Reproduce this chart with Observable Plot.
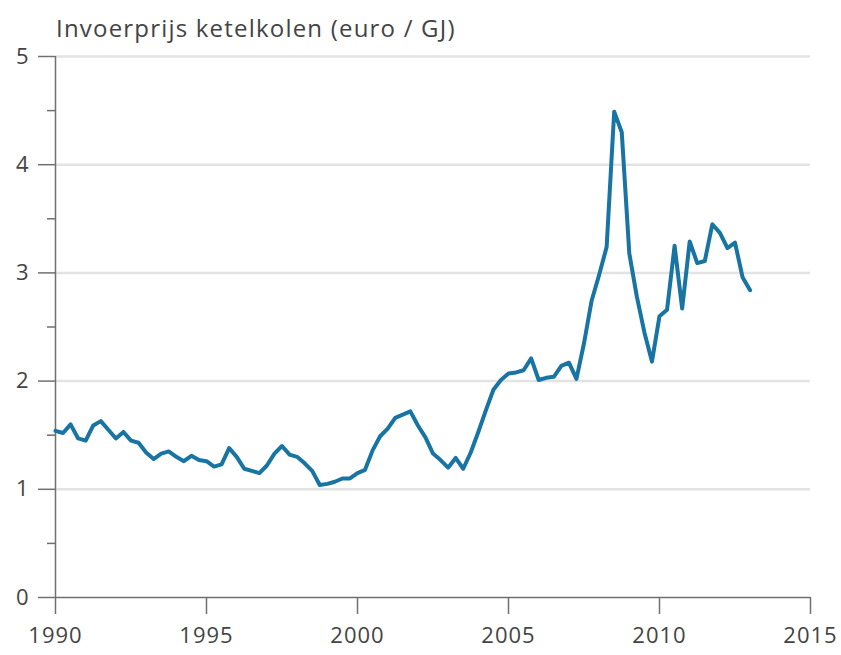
<!DOCTYPE html>
<html>
<head>
<meta charset="utf-8">
<script src="https://cdn.jsdelivr.net/npm/d3@7"></script>
<script src="https://cdn.jsdelivr.net/npm/@observablehq/plot@0.6"></script>
<style>
  body { margin: 0; background: #fff; }
  #title { height: 40px; font-family: "Open Sans", sans-serif; font-size: 24px; letter-spacing: 1.2px; color: #444; padding-left: 56px; padding-top: 15px; line-height: 26px; box-sizing: border-box; white-space: nowrap; }
</style>
</head>
<body>
<div id="title">Invoerprijs ketelkolen (euro / GJ)</div>
<div id="chart"></div>
<script>
const years = [1990,1991,1992,1993,1994,1995,1996,1997,1998,1999,2000,2001,2002,2003,2004,2005,2006,2007,2008,2009,2010,2011,2012,2013];
const quarters = [0, 0.25, 0.5, 0.75];
const prices = [
  1.54,1.52,1.60,1.47,
  1.45,1.59,1.63,1.55,
  1.47,1.53,1.45,1.43,
  1.34,1.28,1.33,1.35,
  1.30,1.26,1.31,1.27,
  1.26,1.21,1.23,1.38,
  1.30,1.19,1.17,1.15,
  1.22,1.33,1.40,1.32,
  1.30,1.24,1.17,1.04,
  1.05,1.07,1.10,1.10,
  1.15,1.18,1.36,1.49,
  1.56,1.66,1.69,1.72,
  1.59,1.48,1.33,1.27,
  1.20,1.29,1.19,1.34,
  1.53,1.73,1.92,2.01,
  2.07,2.08,2.10,2.21,
  2.01,2.03,2.04,2.14,
  2.17,2.02,2.35,2.74,
  2.98,3.24,4.49,4.30,
  3.18,2.78,2.45,2.18,
  2.60,2.66,3.25,2.67,
  3.29,3.09,3.11,3.45,
  3.37,3.23,3.28,2.96,
  2.84
];
const xTicks = [1990,1995,2000,2005,2010,2015];
const yTicks = [0,1,2,3,4,5];
const yMinorTicks = [0.5,1.5,2.5,3.5,4.5];

const times = years.flatMap(y => quarters.map(q => y + q)).slice(0, prices.length);
const data = prices.map((v, i) => ({t: times[i], v}));

const axisColor = "#707070";
const textColor = "#444";

const chart = Plot.plot({
  width: 841,
  height: 615,
  marginLeft: 55,
  marginRight: 31,
  marginTop: 16,
  marginBottom: 58,
  style: { fontFamily: "Open Sans, sans-serif", fontSize: "22px", letterSpacing: "1px", color: textColor, background: "#fff" },
  x: { domain: [1990, 2015] },
  y: { domain: [0, 5] },
  marks: [
    Plot.gridY(yTicks.filter(d => d > 0), { stroke: "#e3e3e3", strokeWidth: 2.5, strokeOpacity: 1 }),
    Plot.axisY(yTicks, { tickSize: 17, tickPadding: 9, stroke: axisColor, strokeWidth: 1.5, label: null, tickFormat: d => d, fill: textColor }),
    Plot.axisY(yMinorTicks, { tickSize: 8, text: null, stroke: axisColor, strokeWidth: 1.5, label: null }),
    Plot.axisX(xTicks, { tickSize: 17, tickPadding: 13, stroke: axisColor, strokeWidth: 1.5, label: null, tickFormat: d => String(d), fill: textColor }),
    Plot.ruleX([1990], { stroke: axisColor, strokeWidth: 1.5 }),
    Plot.ruleY([0], { stroke: axisColor, strokeWidth: 1.5 }),
    Plot.line(data, { x: "t", y: "v", stroke: "#1874a3", strokeWidth: 4, strokeLinejoin: "round" })
  ]
});
document.getElementById("chart").appendChild(chart);
</script>
</body>
</html>
